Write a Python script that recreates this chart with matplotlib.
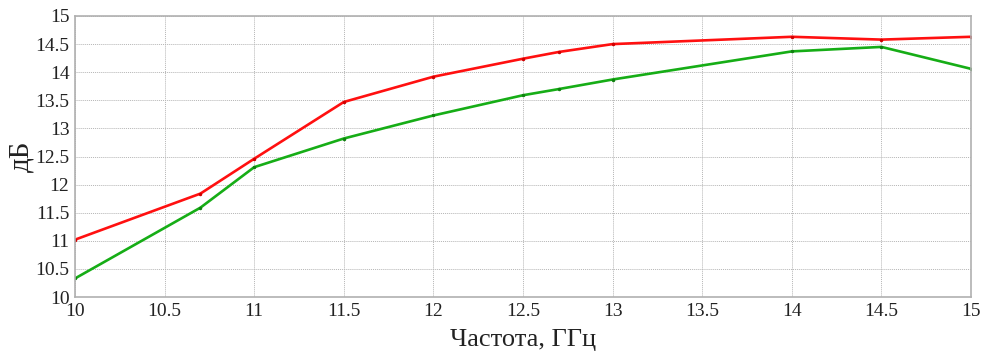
import numpy as np
import matplotlib
matplotlib.use("Agg")
import matplotlib.pyplot as plt

plt.rcParams['font.family'] = ['Liberation Serif', 'DejaVu Serif']

freq = [10, 10.7, 11, 11.5, 12, 12.5, 12.7, 13, 14, 14.5, 15]
gain_red = [11.02, 11.84, 12.46, 13.47, 13.92, 14.24, 14.36, 14.50, 14.63, 14.58, 14.63]
gain_green = [10.33, 11.59, 12.31, 12.82, 13.23, 13.59, 13.70, 13.87, 14.37, 14.45, 14.06]
xticks = np.arange(10, 15.01, 0.5)
yticks = np.arange(10, 15.01, 0.5)

fig = plt.figure(figsize=(9.83, 3.51), dpi=100)
ax = fig.add_axes([75/983, 1-297/351, (971-75)/983, (297-16)/351])

ax.plot(freq, gain_red, '-', color='#ff1010', lw=1.9, marker='.', ms=3, mec='#d00000', mfc='#d00000')
ax.plot(freq, gain_green, '-', color='#16ad16', lw=1.9, marker='.', ms=3, mec='#108010', mfc='#108010')

ax.set_xlim(10, 15)
ax.set_ylim(10, 15)
ax.set_xticks(xticks)
ax.set_yticks(yticks)
ax.set_xticklabels(['%g' % v for v in xticks])
ax.set_yticklabels(['%g' % v for v in yticks])
ax.tick_params(length=0, labelsize=14, pad=4, colors='#222222')
ax.grid(True, color='#b5b5b5', ls=(0, (1, 1)), lw=0.7)
for s in ax.spines.values():
    s.set_color('#b0b0b0')
    s.set_linewidth(1.2)

ax.set_xlabel('Частота, ГГц', fontsize=19, labelpad=7, color='#222222')
ax.set_ylabel('дБ', fontsize=21, labelpad=1, color='#222222')

fig.savefig('out.png', dpi=100)
